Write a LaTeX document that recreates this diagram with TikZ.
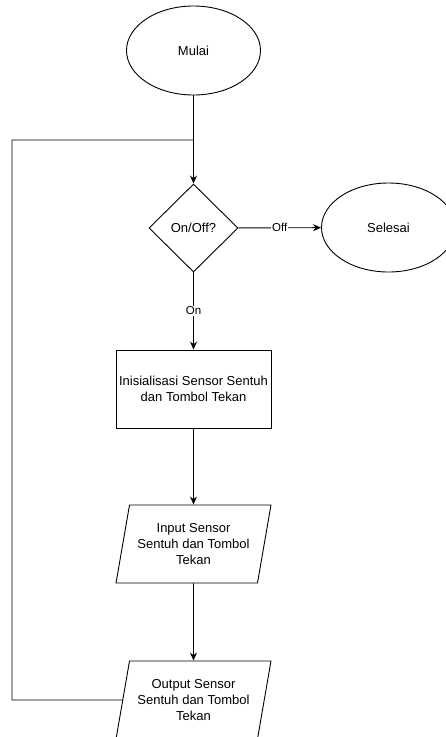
\documentclass[tikz,border=0pt]{standalone}
\usepackage{fontspec}
\setmainfont{Liberation Sans}
\usetikzlibrary{shapes.geometric,arrows.meta}
\begin{document}
\begin{tikzpicture}[x=1pt,y=-1pt,
 base/.style={draw=black, line width=0.9pt, inner sep=0pt, align=center, font=\fontsize{13}{16}\selectfont},
 term/.style={base, ellipse, minimum width=134pt, minimum height=89pt},
 decide/.style={base, diamond, minimum width=89pt, minimum height=88pt},
 proc/.style={base, rectangle, minimum width=155pt, minimum height=78pt},
 io/.style={base, trapezium, trapezium left angle=74, trapezium right angle=106, minimum width=155pt, minimum height=78pt, trapezium stretches=true},
 line/.style={line width=0.9pt},
 conn/.style={line, -{Stealth[length=8pt,width=7pt]}},
 lbl/.style={fill=white, inner sep=1pt, font=\fontsize{11.5}{14}\selectfont}
]
\useasboundingbox (0,0) rectangle (446,737);
\node[term] (mulai) at (193.5,50.5) {Mulai};
\node[decide] (dec) at (193.5,228) {On/Off?};
\node[term] (sel) at (388.5,227.5) {Selesai};
\node[proc] (init) at (193.5,389) {Inisialisasi Sensor Sentuh\\dan Tombol Tekan};
\node[io] (inp) at (193.5,544) {Input Sensor\\Sentuh dan Tombol\\Tekan};
\node[io] (out) at (193.5,700) {Output Sensor\\Sentuh dan Tombol\\Tekan};
\coordinate (j) at (193.5,140);
\coordinate (lt) at (12,140);
\coordinate (lb) at (12,700);
\draw[conn] (mulai) -- (dec);
\draw[conn] (dec) -- node[lbl]{Off} (sel);
\draw[conn] (dec) -- node[lbl]{On} (init);
\draw[conn] (init) -- (inp);
\draw[conn] (inp) -- (out);
\draw[line] (out.west) -- (lb) -- (lt) -- (j);
\end{tikzpicture}
\end{document}
